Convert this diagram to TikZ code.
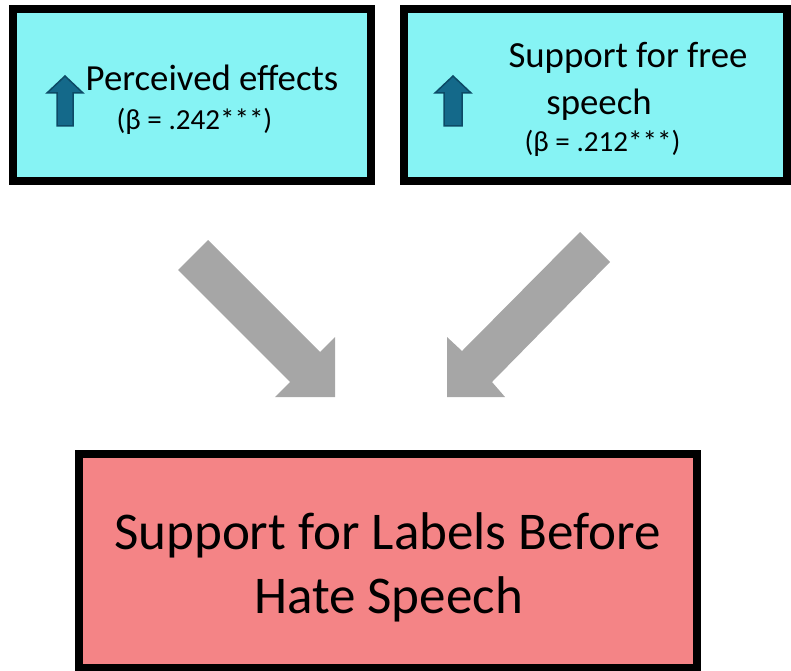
\documentclass[tikz,border=0pt]{standalone}
\usepackage{fontspec}
\setmainfont{Carlito}
\newdimen\pxu \pxu=0.75pt
\definecolor{boxcyan}{HTML}{86F3F4}
\definecolor{boxpink}{HTML}{F48486}
\definecolor{arrgray}{HTML}{A6A6A6}
\definecolor{upfill}{HTML}{14698A}
\definecolor{updraw}{HTML}{0C4A66}
\tikzset{
  panel/.style={draw=black, line width=8\pxu, inner sep=0pt},
  bigtxt/.style={anchor=base, inner sep=0pt, font=\fontsize{27.6}{32}\selectfont},
  betatxt/.style={anchor=base, inner sep=0pt, font=\fontsize{21.8}{26}\selectfont},
  outtxt/.style={anchor=base, inner sep=0pt, font=\fontsize{39.8}{46}\selectfont},
  blockarrow/.style={fill=arrgray, draw=none},
  uparrow/.style={fill=upfill, draw=updraw, line width=1.5\pxu, line join=miter}
}
\begin{document}
\begin{tikzpicture}[x=0.75pt, y=-0.75pt]
\useasboundingbox (0,0) rectangle (791,670);
% boxes
\node[panel, fill=boxcyan, minimum width=358.5\pxu, minimum height=172\pxu] (left) at (191.75,95) {};
\node[panel, fill=boxcyan, minimum width=383\pxu, minimum height=172\pxu] (right) at (595.5,95) {};
\node[panel, fill=boxpink, minimum width=617.5\pxu, minimum height=214\pxu] (out) at (387.75,561) {};
% texts
\node[bigtxt] (l1) at (212,91) {Perceived effects};
\node[betatxt] (l2) at (194.5,130) {(β = .242***)};
\node[bigtxt] (r1) at (628,68) {Support for free};
\node[bigtxt] (r2) at (599,115) {speech};
\node[betatxt] (r3) at (602.5,152) {(β = .212***)};
\node[outtxt] (o1) at (387.5,549) {Support for Labels Before};
\node[outtxt] (o2) at (388.5,613) {Hate Speech};
% up arrows
\draw[uparrow] (65,76) -- (83,93) -- (73,93) -- (73,126) -- (57,126) -- (57,93) -- (47,93) -- cycle;
\draw[uparrow] (453,76) -- (471,93) -- (462,93) -- (462,126) -- (444,126) -- (444,93) -- (435,93) -- cycle;
% big gray arrows
\coordinate (la1) at (178,270);
\coordinate (la2) at (208,240);
\coordinate (lat) at (335,397);
\fill[blockarrow] (la1) -- (la2) -- (320,352) -- (335,337) -- (lat) -- (275,397) -- (290,382) -- cycle;
\coordinate (ra1) at (580,232);
\coordinate (ra2) at (610,262);
\coordinate (rat) at (447,397);
\fill[blockarrow] (ra1) -- (ra2) -- (492,382) -- (505,397) -- (rat) -- (447,337) -- (462,351) -- cycle;
\end{tikzpicture}
\end{document}
